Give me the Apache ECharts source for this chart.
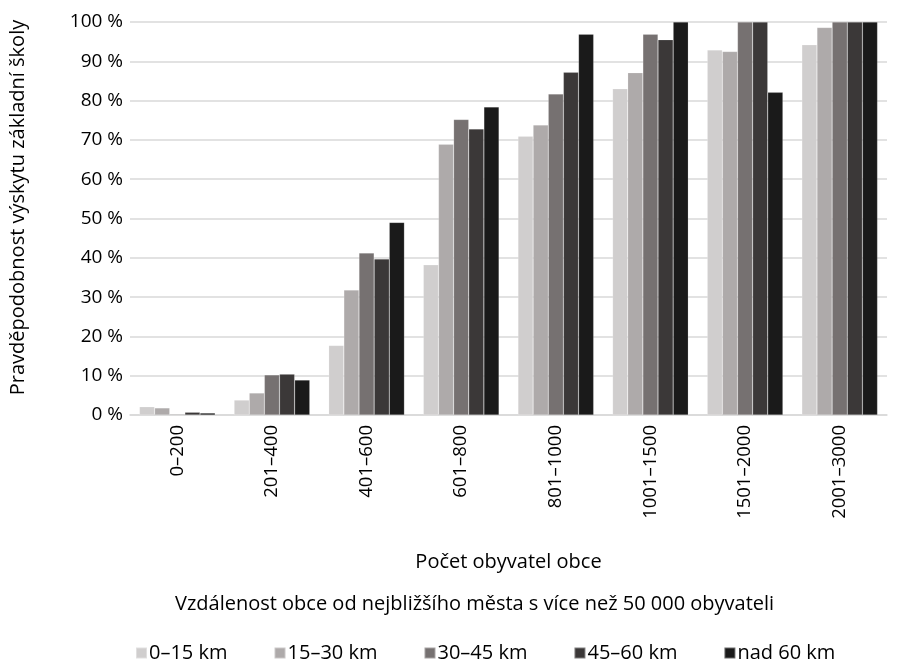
<!DOCTYPE html>
<html><head><meta charset="utf-8">
<script src="https://cdn.jsdelivr.net/npm/echarts@6/dist/echarts.min.js"></script>
<style>html,body{margin:0;padding:0;background:#fff}#c{width:898px;height:661px}</style>
</head><body><div id="c"></div>
<script>
const categories = ['0–200','201–400','401–600','601–800','801–1000','1001–1500','1501–2000','2001–3000'];
const seriesNames = ['0–15 km','15–30 km','30–45 km','45–60 km','nad 60 km'];
const s0_15 = [2.1, 3.8, 17.7, 38.2, 70.9, 83.0, 92.9, 94.2];
const s15_30 = [1.8, 5.6, 31.8, 68.9, 73.8, 87.1, 92.5, 98.6];
const s30_45 = [0.2, 10.2, 41.2, 75.2, 81.7, 96.9, 100, 100];
const s45_60 = [0.7, 10.4, 39.7, 72.8, 87.2, 95.5, 100, 100];
const sNad60 = [0.5, 8.9, 49.0, 78.4, 96.9, 100, 82.1, 100];
const yTicks = [0,10,20,30,40,50,60,70,80,90,100];
const colors = ['#d0cece','#aeaaaa','#767171','#3b3838','#1a1a1a'];
const FONT = 'Open Sans';
const FS = 20;
const chart = echarts.init(document.getElementById('c'), null, {renderer:'canvas'});
const allSeries = [s0_15, s15_30, s30_45, s45_60, sNad60];
chart.setOption({
  animation:false,
  textStyle:{fontFamily:FONT, color:'#000'},
  grid:{left:124, right:11, top:22, bottom:246, containLabel:false},
  title:[{
    text:'Vzdálenost obce od nejbližšího města s více než 50 000 obyvateli',
    left:170, top:589,
    textStyle:{fontFamily:FONT, fontSize:FS, fontWeight:'normal', color:'#000'}
  }],
  legend:{
    data:seriesNames, left:130, top:638, itemWidth:11, itemHeight:11, itemGap:46,
    icon:'rect',
    textStyle:{fontFamily:FONT, fontSize:FS, color:'#000', padding:[0,0,0,-3]}
  },
  xAxis:{
    type:'category', data:categories,
    name:'Počet obyvatel obce', nameLocation:'middle', nameGap:137,
    nameTextStyle:{fontFamily:FONT, fontSize:FS, color:'#000'},
    axisLine:{lineStyle:{color:'#d9d9d9', width:1.5}},
    axisTick:{show:false},
    axisLabel:{rotate:90, fontFamily:FONT, fontSize:18.5, color:'#000', margin:10, interval:0}
  },
  yAxis:{
    type:'value', min:0, max:100, interval:10,
    name:'Pravděpodobnost výskytu základní školy', nameLocation:'middle', nameGap:102,
    nameTextStyle:{fontFamily:FONT, fontSize:FS, color:'#000', padding:[0,0,0,22]},
    axisLine:{show:false}, axisTick:{show:false},
    axisLabel:{fontFamily:FONT, fontSize:19, color:'#000', margin:7,
      formatter:v => yTicks.includes(v) ? v + ' %' : ''},
    splitLine:{lineStyle:{color:'#d9d9d9', width:1.5}}
  },
  series: allSeries.map((d,i)=>({
    name:seriesNames[i], type:'bar', data:d, barGap:'0%', barCategoryGap:'20%',
    itemStyle:{color:colors[i], borderColor:'rgba(255,255,255,0.35)', borderWidth:0.5}
  }))
});
</script></body></html>
